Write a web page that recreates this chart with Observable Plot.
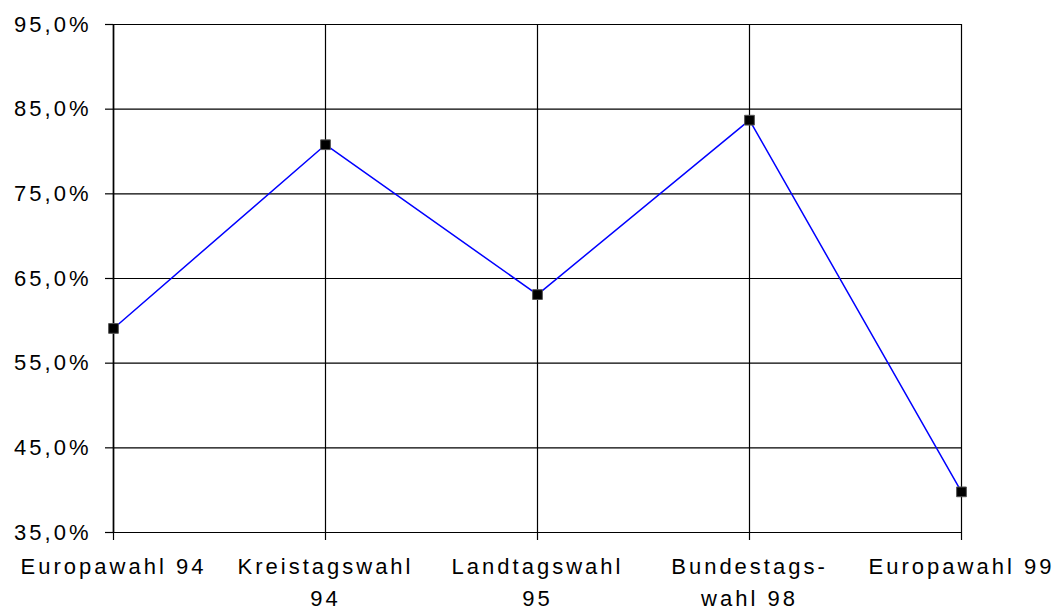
<!DOCTYPE html>
<html>
<head>
<meta charset="utf-8">
<script src="https://cdn.jsdelivr.net/npm/d3@7"></script>
<script src="https://cdn.jsdelivr.net/npm/@observablehq/plot@0.6"></script>
<style>
  html, body { margin: 0; padding: 0; background: #fff; }
</style>
</head>
<body>
<div id="chart"></div>
<script>
const categories = ["Europawahl 94", "Kreistagswahl 94", "Landtagswahl 95", "Bundestagswahl 98", "Europawahl 99"];
const tickLabels = ["Europawahl 94", "Kreistagswahl\n94", "Landtagswahl\n95", "Bundestags-\nwahl 98", "Europawahl 99"];
const values = [59.1, 80.8, 63.1, 83.7, 39.8];
const yTicks = [35, 45, 55, 65, 75, 85, 95];

const data = categories.map((c, i) => ({category: c, value: values[i]}));
const labelOf = new Map(categories.map((c, i) => [c, tickLabels[i]]));

const chart = Plot.plot({
  width: 1060,
  height: 612,
  marginLeft: 113,
  marginRight: 99,
  marginTop: 24,
  marginBottom: 80,
  style: {
    fontFamily: "'Liberation Sans', Arial, sans-serif",
    fontSize: "22px",
    letterSpacing: "3px",
    background: "#fff",
    color: "#000"
  },
  x: {type: "point", domain: categories, padding: 0, label: null},
  y: {domain: [35, 95], label: null},
  marks: [
    Plot.gridY(yTicks, {stroke: "#000", strokeOpacity: 1, strokeWidth: 1.2}),
    Plot.gridX(categories, {stroke: "#000", strokeOpacity: 1, strokeWidth: 1.2}),
    Plot.ruleX([categories[0]], {stroke: "#000", strokeWidth: 1.6}),
    Plot.axisY(yTicks, {
      label: null,
      tickSize: 8,
      tickPadding: 14,
      stroke: "#000",
      strokeWidth: 1.2,
      fontSize: 22,
      tickFormat: d => d.toFixed(1).replace(".", ",") + "%"
    }),
    Plot.axisX(categories, {
      label: null,
      tickSize: 8,
      tickPadding: 11,
      stroke: "#000",
      strokeWidth: 1.2,
      fontSize: 22,
      lineHeight: 1.45,
      tickFormat: d => labelOf.get(d)
    }),
    Plot.line(data, {x: "category", y: "value", stroke: "#0000ff", strokeWidth: 1.5}),
    Plot.dot(data, {x: "category", y: "value", symbol: "square", r: 5.5, fill: "#000", stroke: "#555", strokeWidth: 1})
  ]
});
document.getElementById("chart").appendChild(chart);
</script>
</body>
</html>
